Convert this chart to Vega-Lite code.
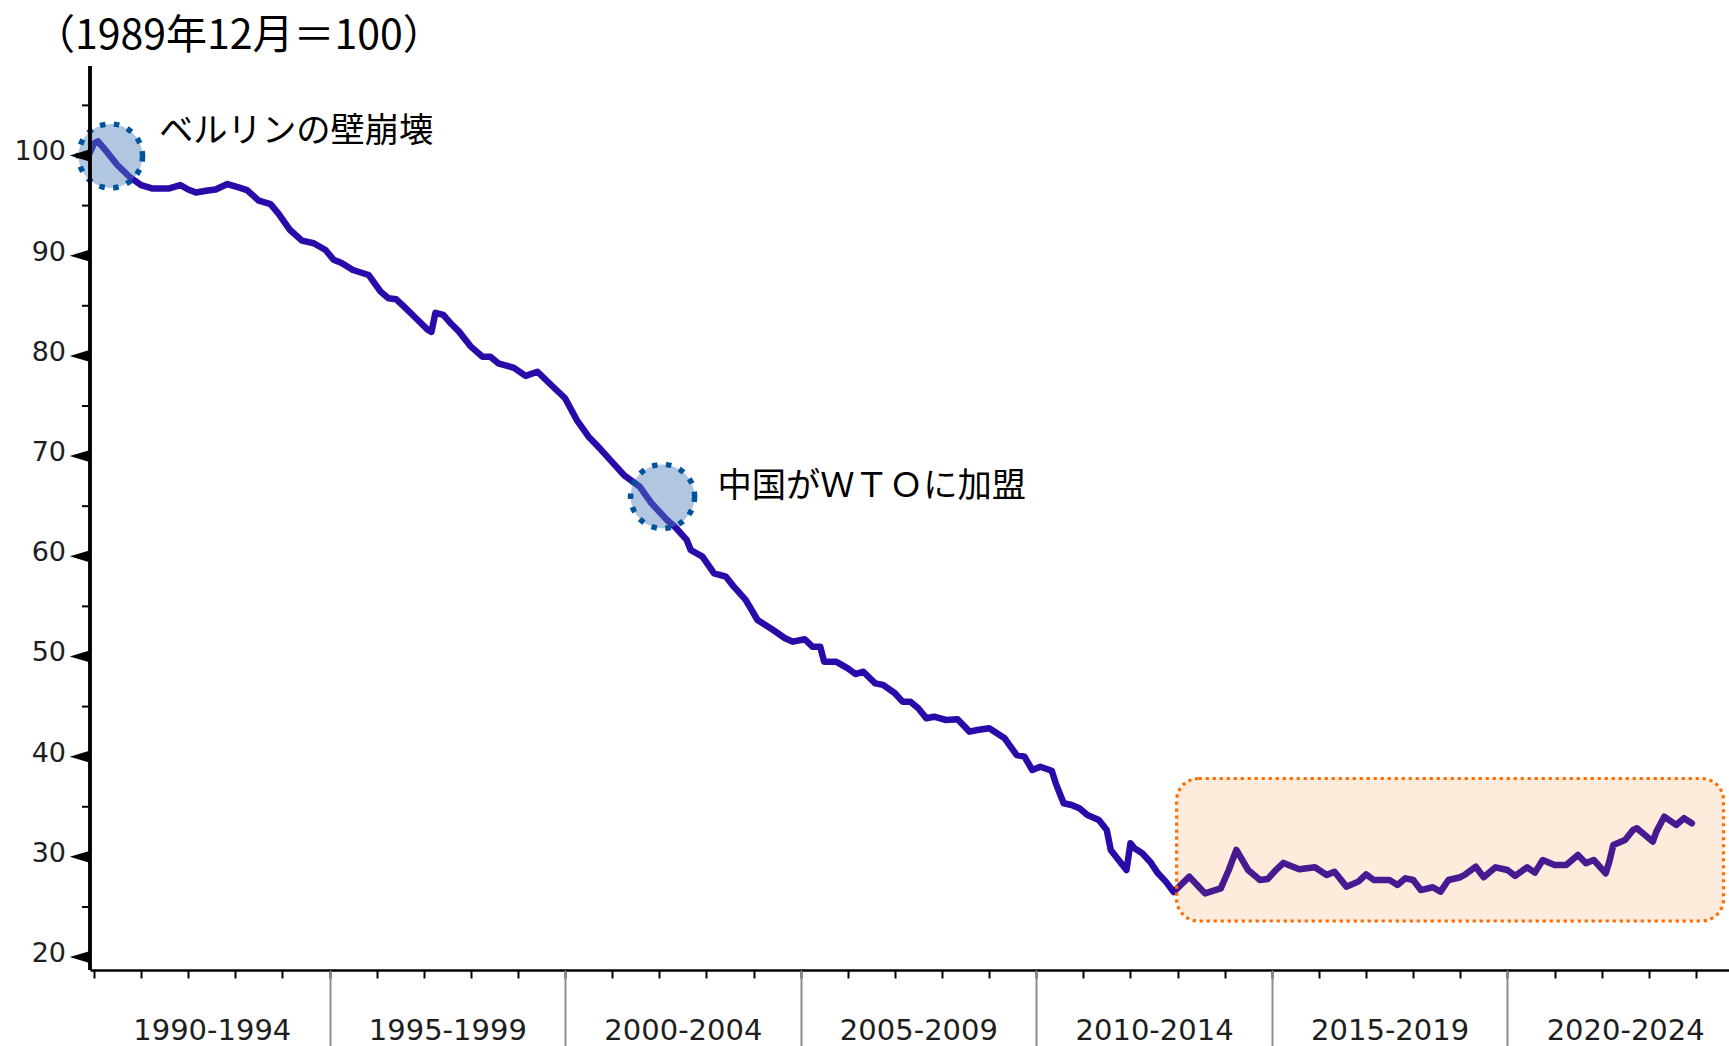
{
  "$schema": "https://vega.github.io/schema/vega-lite/v6.json",
  "width": 1639,
  "height": 904,
  "autosize": {"type": "none"},
  "padding": {"left": 90, "top": 66, "right": 0, "bottom": 76},
  "background": "white",
  "config": {"view": {"stroke": null}},
  "title": {
    "text": "（1989年12月＝100）",
    "anchor": "start",
    "frame": "group",
    "font": "Noto Sans CJK JP",
    "fontSize": 41,
    "fontWeight": "normal",
    "color": "black",
    "baseline": "alphabetic",
    "offset": 13,
    "dy": 38,
    "dx": -56
  },
  "datasets": {
    "series": [
      {"d":"1989-12","v":100.3},{"d":"1990-01","v":101.2},{"d":"1990-02","v":101.4},{"d":"1990-04","v":100.5},
      {"d":"1990-07","v":99.05},{"d":"1990-10","v":97.9},{"d":"1991-01","v":97.05},{"d":"1991-04","v":96.7},
      {"d":"1991-08","v":96.7},{"d":"1991-11","v":97.05},{"d":"1992-01","v":96.6},{"d":"1992-03","v":96.3},
      {"d":"1992-06","v":96.5},{"d":"1992-08","v":96.6},{"d":"1992-11","v":97.15},{"d":"1993-02","v":96.8},
      {"d":"1993-04","v":96.55},{"d":"1993-07","v":95.5},{"d":"1993-10","v":95.15},{"d":"1993-12","v":94.2},
      {"d":"1994-03","v":92.56},{"d":"1994-06","v":91.5},{"d":"1994-09","v":91.24},{"d":"1994-12","v":90.57},
      {"d":"1995-02","v":89.6},{"d":"1995-04","v":89.3},{"d":"1995-07","v":88.57},{"d":"1995-11","v":88.07},
      {"d":"1996-02","v":86.41},{"d":"1996-04","v":85.75},{"d":"1996-06","v":85.65},{"d":"1996-08","v":84.91},
      {"d":"1996-11","v":83.75},{"d":"1997-02","v":82.6},{"d":"1997-03","v":82.4},{"d":"1997-04","v":84.3},
      {"d":"1997-06","v":84.1},{"d":"1997-08","v":83.2},{"d":"1997-10","v":82.42},{"d":"1998-01","v":80.92},
      {"d":"1998-04","v":79.92},{"d":"1998-06","v":79.92},{"d":"1998-08","v":79.26},{"d":"1998-12","v":78.8},
      {"d":"1999-03","v":78.0},{"d":"1999-06","v":78.42},{"d":"1999-09","v":77.27},{"d":"2000-01","v":75.77},
      {"d":"2000-04","v":73.6},{"d":"2000-07","v":71.94},{"d":"2000-10","v":70.7},{"d":"2001-02","v":68.94},
      {"d":"2001-04","v":68.11},{"d":"2001-08","v":66.95},{"d":"2001-11","v":65.29},{"d":"2002-03","v":63.62},
      {"d":"2002-05","v":62.95},{"d":"2002-08","v":61.63},{"d":"2002-09","v":60.63},{"d":"2002-12","v":59.96},
      {"d":"2003-03","v":58.3},{"d":"2003-06","v":57.96},{"d":"2003-08","v":56.97},{"d":"2003-11","v":55.64},
      {"d":"2004-02","v":53.64},{"d":"2004-06","v":52.64},{"d":"2004-09","v":51.82},{"d":"2004-11","v":51.48},
      {"d":"2005-02","v":51.72},{"d":"2005-04","v":50.98},{"d":"2005-06","v":50.98},{"d":"2005-07","v":49.48},
      {"d":"2005-10","v":49.48},{"d":"2006-01","v":48.82},{"d":"2006-03","v":48.25},{"d":"2006-05","v":48.48},
      {"d":"2006-08","v":47.32},{"d":"2006-10","v":47.16},{"d":"2007-01","v":46.33},{"d":"2007-03","v":45.49},
      {"d":"2007-05","v":45.49},{"d":"2007-07","v":44.83},{"d":"2007-09","v":43.83},{"d":"2007-11","v":43.99},
      {"d":"2008-02","v":43.66},{"d":"2008-05","v":43.73},{"d":"2008-08","v":42.5},{"d":"2008-10","v":42.66},
      {"d":"2009-01","v":42.83},{"d":"2009-05","v":41.83},{"d":"2009-08","v":40.17},{"d":"2009-10","v":40.0},
      {"d":"2009-12","v":38.67},{"d":"2010-02","v":39.0},{"d":"2010-05","v":38.6},{"d":"2010-06","v":37.34},
      {"d":"2010-08","v":35.35},{"d":"2010-10","v":35.18},{"d":"2010-12","v":34.85},{"d":"2011-02","v":34.18},
      {"d":"2011-05","v":33.68},{"d":"2011-07","v":32.69},{"d":"2011-08","v":30.69},{"d":"2011-10","v":29.69},
      {"d":"2011-12","v":28.69},{"d":"2012-01","v":31.36},{"d":"2012-02","v":30.86},{"d":"2012-04","v":30.36},
      {"d":"2012-06","v":29.52},{"d":"2012-08","v":28.36},{"d":"2012-10","v":27.53},{"d":"2012-12","v":26.5},
      {"d":"2013-04","v":28.03},{"d":"2013-06","v":27.2},{"d":"2013-08","v":26.36},{"d":"2013-12","v":26.86},
      {"d":"2014-02","v":28.69},{"d":"2014-04","v":30.69},{"d":"2014-07","v":28.69},{"d":"2014-10","v":27.69},
      {"d":"2014-12","v":27.8},{"d":"2015-02","v":28.69},{"d":"2015-04","v":29.4},{"d":"2015-08","v":28.76},
      {"d":"2015-12","v":28.96},{"d":"2016-03","v":28.19},{"d":"2016-05","v":28.52},{"d":"2016-08","v":27.03},
      {"d":"2016-11","v":27.53},{"d":"2017-01","v":28.26},{"d":"2017-03","v":27.69},{"d":"2017-07","v":27.69},
      {"d":"2017-09","v":27.2},{"d":"2017-11","v":27.86},{"d":"2018-01","v":27.69},{"d":"2018-03","v":26.69},
      {"d":"2018-06","v":26.97},{"d":"2018-08","v":26.53},{"d":"2018-10","v":27.69},{"d":"2019-01","v":27.97},
      {"d":"2019-02","v":28.19},{"d":"2019-05","v":29.02},{"d":"2019-07","v":27.97},{"d":"2019-10","v":28.96},
      {"d":"2020-01","v":28.69},{"d":"2020-03","v":28.1},{"d":"2020-06","v":28.96},{"d":"2020-08","v":28.43},
      {"d":"2020-10","v":29.69},{"d":"2021-01","v":29.19},{"d":"2021-04","v":29.19},{"d":"2021-07","v":30.19},
      {"d":"2021-09","v":29.36},{"d":"2021-11","v":29.69},{"d":"2022-02","v":28.36},{"d":"2022-03","v":29.52},
      {"d":"2022-04","v":31.19},{"d":"2022-07","v":31.69},{"d":"2022-09","v":32.69},{"d":"2022-10","v":32.86},
      {"d":"2023-02","v":31.52},{"d":"2023-03","v":32.52},{"d":"2023-05","v":34.01},{"d":"2023-08","v":33.19},
      {"d":"2023-10","v":33.86},{"d":"2023-12","v":33.36}
    ],
    "ymajor": [{"v":20},{"v":30},{"v":40},{"v":50},{"v":60},{"v":70},{"v":80},{"v":90},{"v":100}],
    "yminor": [{"v":25},{"v":35},{"v":45},{"v":55},{"v":65},{"v":75},{"v":85},{"v":95},{"v":105}],
    "box": [{"d1":"2012-12-24","d2":"2024-08-03","v1":37.82,"v2":23.6}],
    "circles": [{"d":"1990-05-09","v":99.95},{"d":"2002-01-26","v":65.97}],
    "notes": [{"d":"1991-05-20","v":102.35,"t":"ベルリンの壁崩壊"},{"d":"2003-03-27","v":66.9,"t":"中国がＷＴＯに加盟"}]
  },
  "layer": [
    {
      "data": {"name": "series"},
      "mark": {"type": "line", "color": "#2a0aa8", "strokeWidth": 6.5, "strokeJoin": "round", "strokeCap": "round"},
      "encoding": {
        "x": {
          "field": "d", "type": "temporal",
          "scale": {"type": "utc", "domain": [{"year":1989,"month":12,"date":1,"utc":true},{"year":2024,"month":9,"date":14,"utc":true}]},
          "axis": {
            "orient": "bottom", "title": null, "grid": false, "labels": false,
            "values": [
              {"year":1990,"utc":true},{"year":1991,"utc":true},{"year":1992,"utc":true},{"year":1993,"utc":true},{"year":1994,"utc":true},
              {"year":1995,"utc":true},{"year":1996,"utc":true},{"year":1997,"utc":true},{"year":1998,"utc":true},{"year":1999,"utc":true},
              {"year":2000,"utc":true},{"year":2001,"utc":true},{"year":2002,"utc":true},{"year":2003,"utc":true},{"year":2004,"utc":true},
              {"year":2005,"utc":true},{"year":2006,"utc":true},{"year":2007,"utc":true},{"year":2008,"utc":true},{"year":2009,"utc":true},
              {"year":2010,"utc":true},{"year":2011,"utc":true},{"year":2012,"utc":true},{"year":2013,"utc":true},{"year":2014,"utc":true},
              {"year":2015,"utc":true},{"year":2016,"utc":true},{"year":2017,"utc":true},{"year":2018,"utc":true},{"year":2019,"utc":true},
              {"year":2020,"utc":true},{"year":2021,"utc":true},{"year":2022,"utc":true},{"year":2023,"utc":true},{"year":2024,"utc":true}
            ],
            "tickSize": 8, "tickColor": "black", "tickWidth": 2,
            "domainColor": "black", "domainWidth": 2.5
          }
        },
        "y": {
          "field": "v", "type": "quantitative",
          "scale": {"domain": [18.71, 108.93], "nice": false, "zero": false},
          "axis": null
        }
      }
    },
    {
      "data": {"name": "box"},
      "mark": {"type": "rect", "cornerRadius": 22, "fill": "#f27914", "fillOpacity": 0.15, "stroke": "#ff6d00", "strokeOpacity": 1, "strokeWidth": 3.2, "strokeDash": [3.2, 3.8]},
      "encoding": {
        "x": {
          "field": "d1", "type": "temporal",
          "axis": {
            "orient": "bottom", "title": null, "grid": false, "labels": false, "domain": false,
            "values": [{"year":1995,"utc":true},{"year":2000,"utc":true},{"year":2005,"utc":true},{"year":2010,"utc":true},{"year":2015,"utc":true},{"year":2020,"utc":true}],
            "tickSize": 90, "tickColor": "#8c8c8c", "tickWidth": 2
          }
        },
        "x2": {"field": "d2"},
        "y": {"field": "v1", "type": "quantitative", "axis": null},
        "y2": {"field": "v2"}
      }
    },
    {
      "data": {"name": "circles"},
      "mark": {"type": "point", "shape": "circle", "filled": true, "size": 4100, "fill": "#4f81bd", "fillOpacity": 0.45, "opacity": 1, "stroke": "#00529b", "strokeOpacity": 1, "strokeWidth": 5.5, "strokeDash": [5.5, 8.5]},
      "encoding": {
        "x": {"field": "d", "type": "temporal", "axis": null},
        "y": {"field": "v", "type": "quantitative", "axis": null}
      }
    },
    {
      "data": {"name": "notes"},
      "mark": {"type": "text", "font": "Noto Sans CJK JP", "fontSize": 34.3, "align": "left", "baseline": "middle", "color": "black"},
      "encoding": {
        "x": {
          "field": "d", "type": "temporal",
          "axis": {
            "orient": "bottom", "title": null, "grid": false, "domain": false, "ticks": false,
            "values": [{"year":1992,"month":7,"date":2,"utc":true},{"year":1997,"month":7,"date":2,"utc":true},{"year":2002,"month":7,"date":2,"utc":true},{"year":2007,"month":7,"date":2,"utc":true},{"year":2012,"month":7,"date":2,"utc":true},{"year":2017,"month":7,"date":2,"utc":true},{"year":2022,"month":7,"date":2,"utc":true}],
            "labelExpr": "(utcyear(datum.value) - 2) + '-' + (utcyear(datum.value) + 2)",
            "labelFont": "DejaVu Sans", "labelFontSize": 29, "labelColor": "#1e1e1e",
            "labelPadding": 46, "labelOverlap": false, "labelBound": false, "labelFlush": false
          }
        },
        "y": {"field": "v", "type": "quantitative", "axis": null},
        "text": {"field": "t"}
      }
    },
    {
      "data": {"name": "ymajor"},
      "mark": {"type": "rule", "color": "black", "strokeWidth": 2.5},
      "encoding": {
        "x": {"datum": {"year":1989,"month":12,"date":1,"utc":true}, "type": "temporal", "axis": null},
        "y": {"datum": 18.71, "type": "quantitative", "axis": null},
        "y2": {"datum": 108.93}
      }
    },
    {
      "data": {"name": "yminor"},
      "mark": {"type": "point", "shape": "M-1,0L1,0", "filled": false, "size": 64, "stroke": "black", "strokeWidth": 2, "opacity": 1, "xOffset": -4},
      "encoding": {
        "x": {"datum": {"year":1989,"month":12,"date":1,"utc":true}, "type": "temporal", "axis": null},
        "y": {"field": "v", "type": "quantitative", "axis": null}
      }
    },
    {
      "data": {"name": "ymajor"},
      "mark": {"type": "point", "shape": "M1,-0.6L-1,0L1,0.6Z", "filled": true, "size": 420, "color": "black", "opacity": 1, "xOffset": -10},
      "encoding": {
        "x": {"datum": {"year":1989,"month":12,"date":1,"utc":true}, "type": "temporal", "axis": null},
        "y": {"field": "v", "type": "quantitative", "axis": null}
      }
    },
    {
      "data": {"name": "ymajor"},
      "mark": {"type": "text", "font": "DejaVu Sans", "fontSize": 27, "color": "#1e1e1e", "align": "right", "baseline": "middle", "dx": -24, "dy": -3},
      "encoding": {
        "x": {"datum": {"year":1989,"month":12,"date":1,"utc":true}, "type": "temporal", "axis": null},
        "y": {"field": "v", "type": "quantitative", "axis": null},
        "text": {"field": "v", "type": "quantitative", "format": "d"}
      }
    }
  ],
  "resolve": {"axis": {"x": "independent"}}
}
